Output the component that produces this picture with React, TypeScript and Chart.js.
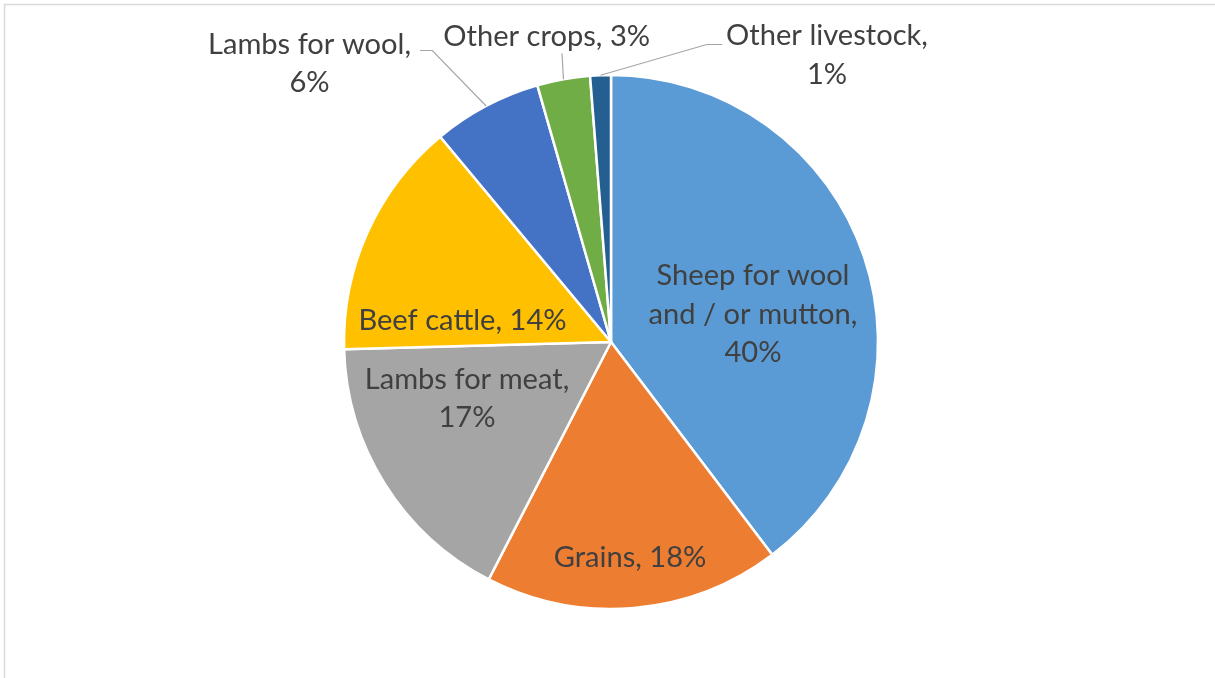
import React, { useEffect, useRef } from "react";
import { Chart, registerables } from "chart.js";

Chart.register(...registerables);

// ---- data ----
const categories = [
  "Sheep for wool and / or mutton",
  "Grains",
  "Lambs for meat",
  "Beef cattle",
  "Lambs for wool",
  "Other crops",
  "Other livestock",
];
const shares = [39.7, 17.9, 17.0, 14.4, 6.6, 3.2, 1.25];
const percentLabels = ["40%", "18%", "17%", "14%", "6%", "3%", "1%"];
const labelLines = [
  ["Sheep for wool", "and / or mutton,", "40%"],
  ["Grains, 18%"],
  ["Lambs for meat,", "17%"],
  ["Beef cattle, 14%"],
  ["Lambs for wool,", "6%"],
  ["Other crops, 3%"],
  ["Other livestock,", "1%"],
];
const sliceColors = ["#5B9BD5", "#ED7D31", "#A5A5A5", "#FFC000", "#4472C4", "#70AD47", "#255E91"];

// ---- label layout (text placement, not data) ----
type Pt = [number, number];
const labelLayout: { cx: number; y: number; leader: Pt[] | null }[] = [
  { cx: 753, y: 285, leader: null },
  { cx: 630, y: 566.5, leader: null },
  { cx: 467, y: 388.5, leader: null },
  { cx: 462.5, y: 330, leader: null },
  { cx: 309.5, y: 53.5, leader: [[432.3, 50.5], [420, 50.5]] },
  { cx: 546.7, y: 46, leader: [[562, 53.5]] },
  { cx: 827, y: 45, leader: [[706.7, 44.5], [722.3, 44.5]] },
];
const LINE_HEIGHT = 38.5;
const FONT_FAMILY = "Lato, 'Open Sans', sans-serif";
const FONT_SIZE = 28.5;
const TEXT_COLOR = "#404040";

const labelPlugin = {
  id: "excelLabels",
  afterDraw(chart: any) {
    const ctx: CanvasRenderingContext2D = chart.ctx;
    ctx.save();
    // chart border (light gray)
    ctx.strokeStyle = "#D9D9D9";
    ctx.lineWidth = 1.5;
    ctx.beginPath();
    ctx.moveTo(1215, 4.5);
    ctx.lineTo(4.5, 4.5);
    ctx.lineTo(4.5, 678);
    ctx.stroke();

    ctx.font = `${FONT_SIZE}px ${FONT_FAMILY}`;
    const w = ctx.measureText("Lambs for wool,").width;
    const sx = 203 / w;

    const meta = chart.getDatasetMeta(0);
    meta.data.forEach((arc: any, i: number) => {
      const lay = labelLayout[i];
      if (lay.leader) {
        const mid = (arc.startAngle + arc.endAngle) / 2;
        const px = arc.x + Math.cos(mid) * arc.outerRadius;
        const py = arc.y + Math.sin(mid) * arc.outerRadius;
        ctx.strokeStyle = "#A6A6A6";
        ctx.lineWidth = 1.2;
        ctx.beginPath();
        ctx.moveTo(px, py);
        lay.leader.forEach((p) => ctx.lineTo(p[0], p[1]));
        ctx.stroke();
      }
      ctx.fillStyle = TEXT_COLOR;
      ctx.textAlign = "center";
      ctx.textBaseline = "alphabetic";
      labelLines[i].forEach((line, k) => {
        ctx.save();
        ctx.translate(lay.cx, lay.y + k * LINE_HEIGHT);
        ctx.scale(sx, 1);
        ctx.fillText(line, 0, 0);
        ctx.restore();
      });
    });
    ctx.restore();
  },
};

export default function App() {
  const ref = useRef<HTMLCanvasElement | null>(null);
  useEffect(() => {
    document.body.style.margin = "0";
    const canvas = ref.current!;
    const chart = new Chart(canvas, {
      type: "pie",
      data: {
        labels: categories,
        datasets: [
          {
            data: shares,
            backgroundColor: sliceColors,
            borderColor: "#FFFFFF",
            borderWidth: 2.5,
          },
        ],
      },
      options: {
        responsive: false,
        animation: false,
        radius: 267,
        layout: { padding: { left: 345, right: 338, top: 76, bottom: 70 } },
        plugins: {
          legend: { display: false },
          tooltip: { enabled: false },
        },
      } as any,
      plugins: [labelPlugin],
    });
    return () => chart.destroy();
  }, []);
  return (
    <div style={{ position: "absolute", left: 0, top: 0, width: 1215, height: 678, background: "#fff" }}>
      <canvas ref={ref} width={1215} height={678} />
    </div>
  );
}
